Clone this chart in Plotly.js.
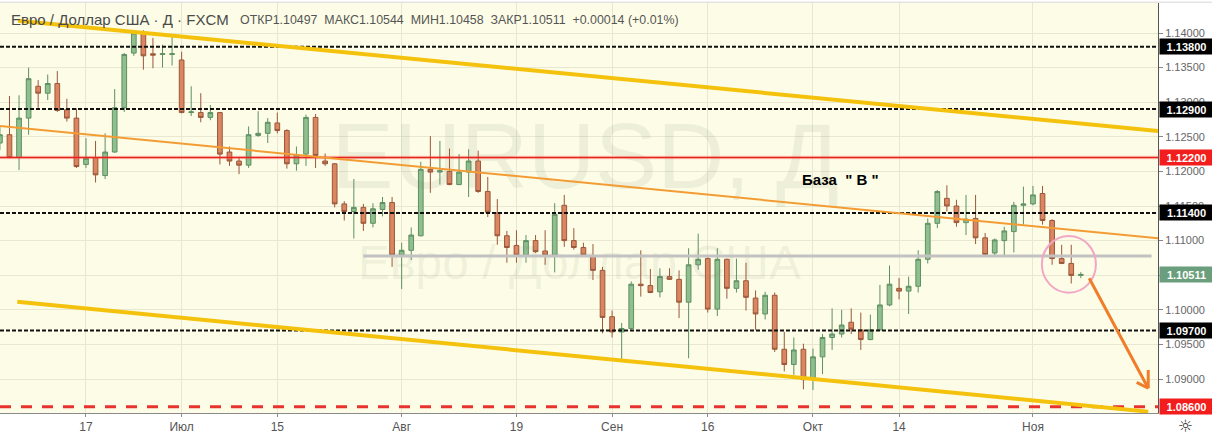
<!DOCTYPE html>
<html><head><meta charset="utf-8">
<script src="https://cdn.plot.ly/plotly-3.0.1.min.js"></script>
<style>html,body{margin:0;padding:0;background:#fff}#chart{width:1212px;height:438px}</style>
</head><body><div id="chart"></div>
<script>
// ---- data (EUR/USD daily, FXCM) ----
const dates = [
'2019-06-04','2019-06-05','2019-06-06','2019-06-07','2019-06-10','2019-06-11','2019-06-12','2019-06-13','2019-06-14',
'2019-06-17','2019-06-18','2019-06-19','2019-06-20','2019-06-21','2019-06-24','2019-06-25','2019-06-26','2019-06-27','2019-06-28',
'2019-07-01','2019-07-02','2019-07-03','2019-07-04','2019-07-05','2019-07-08','2019-07-09','2019-07-10','2019-07-11','2019-07-12',
'2019-07-15','2019-07-16','2019-07-17','2019-07-18','2019-07-19','2019-07-22','2019-07-23','2019-07-24','2019-07-25','2019-07-26',
'2019-07-29','2019-07-30','2019-07-31',
'2019-08-01','2019-08-02','2019-08-05','2019-08-06','2019-08-07','2019-08-08','2019-08-09','2019-08-12','2019-08-13','2019-08-14',
'2019-08-15','2019-08-16','2019-08-19','2019-08-20','2019-08-21','2019-08-22','2019-08-23','2019-08-26','2019-08-27','2019-08-28',
'2019-08-29','2019-08-30',
'2019-09-02','2019-09-03','2019-09-04','2019-09-05','2019-09-06','2019-09-09','2019-09-10','2019-09-11','2019-09-12','2019-09-13',
'2019-09-16','2019-09-17','2019-09-18','2019-09-19','2019-09-20','2019-09-23','2019-09-24','2019-09-25','2019-09-26','2019-09-27',
'2019-09-30',
'2019-10-01','2019-10-02','2019-10-03','2019-10-04','2019-10-07','2019-10-08','2019-10-09','2019-10-10','2019-10-11','2019-10-14',
'2019-10-15','2019-10-16','2019-10-17','2019-10-18','2019-10-21','2019-10-22','2019-10-23','2019-10-24','2019-10-25','2019-10-28',
'2019-10-29','2019-10-30','2019-10-31',
'2019-11-01','2019-11-04','2019-11-05','2019-11-06','2019-11-07','2019-11-08'
];
const openP = [
1.1241,1.1253,1.1220,1.1277,1.1323,1.1313,1.1327,1.1289,1.1277,
1.1210,1.1220,1.1194,1.1228,1.1292,1.1371,1.1400,1.1370,1.1369,1.1369,
1.1361,1.1285,1.1285,1.1278,1.1285,1.1228,1.1215,1.1209,1.1252,1.1255,
1.1270,1.1259,1.1211,1.1225,1.1278,1.1215,1.1211,1.1153,1.1142,1.1148,
1.1125,1.1145,1.1155,
1.1079,1.1086,1.1107,1.1203,1.1199,1.1200,1.1181,1.1199,1.1215,1.1171,
1.1140,1.1107,1.1093,1.1079,1.1100,1.1085,1.1079,1.1151,1.1100,1.1090,
1.1077,1.1057,
1.0990,1.0968,1.0973,1.1037,1.1035,1.1026,1.1048,1.1044,1.1011,1.1065,
1.1074,1.1001,1.1073,1.1031,1.1042,1.1017,1.0994,1.1021,1.0943,1.0921,
1.0943,
1.0900,1.0932,1.0960,1.0965,1.0982,1.0971,1.0957,1.0971,1.1007,1.1031,
1.1027,1.1034,1.1073,1.1125,1.1161,1.1150,1.1126,1.1132,1.1104,1.1082,
1.1100,1.1113,1.1151,
1.1153,1.1168,1.1129,1.1074,1.1067,1.10497
];
const highP = [
1.1265,1.1309,1.1310,1.1350,1.1332,1.1340,1.1345,1.1305,1.1291,
1.1248,1.1244,1.1255,1.1319,1.1371,1.1402,1.1404,1.1393,1.1383,1.1395,
1.1373,1.1323,1.1313,1.1296,1.1286,1.1236,1.1221,1.1265,1.1287,1.1277,
1.1285,1.1261,1.1236,1.1282,1.1283,1.1226,1.1212,1.1157,1.1189,1.1153,
1.1154,1.1163,1.1163,
1.1097,1.1119,1.1214,1.1251,1.1244,1.1233,1.1225,1.1232,1.1230,1.1192,
1.1160,1.1114,1.1115,1.1108,1.1108,1.1115,1.1154,1.1166,1.1118,1.1097,
1.1095,1.1062,
1.0999,1.0981,1.1041,1.1086,1.1059,1.1060,1.1060,1.1057,1.1089,1.1110,
1.1076,1.1089,1.1074,1.1074,1.1068,1.1028,1.1026,1.1025,1.0968,1.0960,
1.0951,
1.0944,1.0965,1.1002,1.1000,1.1002,1.0996,1.0993,1.1036,1.1064,1.1046,
1.1048,1.1086,1.1132,1.1173,1.1180,1.1159,1.1166,1.1166,1.1111,1.1103,
1.1120,1.1156,1.1178,
1.1179,1.1179,1.1131,1.1094,1.1094,1.10544
];
const lowP = [
1.1231,1.1219,1.1202,1.1253,1.1292,1.1303,1.1286,1.1272,1.1205,
1.1205,1.1184,1.1189,1.1227,1.1286,1.1367,1.1347,1.1349,1.1350,1.1353,
1.1284,1.1280,1.1271,1.1274,1.1210,1.1208,1.1196,1.1205,1.1250,1.1241,
1.1255,1.1204,1.1201,1.1208,1.1205,1.1208,1.1148,1.1129,1.1103,1.1114,
1.1119,1.1135,1.1062,
1.1030,1.1072,1.1106,1.1169,1.1181,1.1180,1.1180,1.1163,1.1169,1.1134,
1.1094,1.1068,1.1068,1.1068,1.1082,1.1065,1.1054,1.1091,1.1087,1.1078,
1.1043,1.0966,
1.0960,1.0929,1.0971,1.1019,1.1024,1.1018,1.1043,1.0988,1.0930,1.1058,
1.0996,1.0991,1.1016,1.1025,1.0999,1.0971,1.0986,1.0939,1.0911,1.0906,
1.0885,
1.0884,1.0907,1.0942,1.0960,1.0965,1.0942,1.0956,1.0970,1.1005,1.1015,
1.0994,1.1025,1.1067,1.1118,1.1142,1.1120,1.1108,1.1095,1.1079,1.1079,
1.1079,1.1083,1.1123,
1.1151,1.1123,1.1065,1.1066,1.1038,1.10458
];
const closeP = [
1.1253,1.1220,1.1277,1.1334,1.1313,1.1327,1.1288,1.1277,1.1207,
1.1219,1.1195,1.1228,1.1292,1.1369,1.1400,1.1367,1.1368,1.1370,1.1370,
1.1285,1.1286,1.1278,1.1285,1.1225,1.1215,1.1209,1.1253,1.1255,1.1271,
1.1259,1.1211,1.1224,1.1278,1.1223,1.1211,1.1153,1.1142,1.1148,1.1125,
1.1146,1.1155,1.1079,
1.1086,1.1108,1.1203,1.1199,1.1201,1.1181,1.1199,1.1215,1.1171,1.1141,
1.1107,1.1090,1.1079,1.1100,1.1084,1.1079,1.1138,1.1100,1.1090,1.1079,
1.1057,1.0989,
1.0968,1.0973,1.1037,1.1035,1.1025,1.1048,1.1044,1.1011,1.1065,1.1073,
1.1001,1.1073,1.1031,1.1042,1.1018,1.0994,1.1021,1.0943,1.0921,1.0942,
1.0899,
1.0932,1.0960,1.0965,1.0978,1.0972,1.0957,1.0971,1.1007,1.1037,1.1027,
1.1034,1.1073,1.1125,1.1171,1.1150,1.1126,1.1131,1.1104,1.1080,1.1101,
1.1114,1.1151,1.1153,
1.1166,1.1129,1.1074,1.1067,1.10497,1.10511
];
const tickDates  = ['2019-06-17','2019-07-01','2019-07-15','2019-08-01','2019-08-19','2019-09-02','2019-09-16','2019-10-01','2019-10-14','2019-11-01'];
const tickLabels = ['17','Июл','15','Авг','19','Сен','16','Окт','14','Ноя'];
const priceTicks = [1.09,1.095,1.10,1.105,1.11,1.115,1.12,1.125,1.13,1.135,1.14];
const dottedLevels = [1.138,1.129,1.114,1.097];
const redLevel = 1.122;
const redDashedLevel = 1.086;
const grayLevel = 1.10777;
const lastClose = 1.10511;
const headerMain = 'Евро / Доллар США · Д · FXCM';
const headerValues = 'ОТКР1.10497\u00a0\u00a0МАКС1.10544\u00a0\u00a0МИН1.10458\u00a0\u00a0ЗАКР1.10511\u00a0\u00a0+0.00014\u00a0(+0.01%)';

// ---- drawing ----
const idx = dates.map((d,i)=>i);
const FONT = 'Liberation Sans, Arial, sans-serif';
const traces = [
  {type:'scatter', mode:'text', x:[61.2, 60.6], y:[1.1209, 1.1062],
   text:['EURUSD, Д','Евро / Доллар США'], hoverinfo:'skip', showlegend:false,
   textfont:{family:FONT, size:[93,48], color:'rgba(120,125,100,0.11)'}},
  {type:'candlestick', x:idx, open:openP, high:highP, low:lowP, close:closeP,
   increasing:{line:{color:'#5e8f62', width:1}, fillcolor:'#8fbf8f'},
   decreasing:{line:{color:'#9a573a', width:1}, fillcolor:'#db8660'},
   whiskerwidth:0, showlegend:false, hoverinfo:'skip'}
];
const hl = (y, color, width, dash) => ({type:'line', xref:'paper', x0:0, x1:1, yref:'y', y0:y, y1:y,
  line:{color, width, dash}});
const seg = (x0,y0,x1,y1,color,width) => ({type:'line', xref:'x', yref:'y', x0, y0, x1, y1, line:{color, width}});
const shapes = [];
dottedLevels.forEach(v => shapes.push(hl(v, '#111', 2, '4px,2px')));
shapes.push(hl(redLevel, 'rgba(255,90,90,0.28)', 3.5, 'solid'));
shapes.push(hl(redLevel, '#e8221c', 1.5, 'solid'));
shapes.push(hl(redDashedLevel, '#e8322d', 3, '11px,10px'));
shapes.push(seg(37.99, grayLevel, 120.4, grayLevel, '#c2c2c2', 3));
shapes.push(seg(1.892, 1.14178, 121.07, 1.12584, '#f4c20d', 4));
shapes.push(seg(1.818, 1.10117, 120.05, 1.08528, '#f4c20d', 4));
shapes.push(seg(0.01, 1.12656, 121.07, 1.11033, '#f39c34', 2));
shapes.push({type:'circle', xref:'x', yref:'y', x0:108.93, x1:114.58, y0:1.10247, y1:1.11067,
  line:{color:'#f2a7c6', width:2}});
shapes.push(seg(113.88, 1.10455, 120.05, 1.08866, '#f07d2a', 3));
shapes.push(seg(118.84, 1.08952, 120.05, 1.08866, '#f07d2a', 3));
shapes.push(seg(120.05, 1.09130, 120.05, 1.08866, '#f07d2a', 3));
shapes.push({type:'line', xref:'paper', yref:'paper', x0:0, x1:1.05, y0:1.002, y1:1.002, line:{color:'#d6d6d6', width:1}});

const box = (y, bg) => ({xref:'paper', x:1, xanchor:'left', xshift:1, yref:'y', y, yanchor:'middle',
  text:y.toFixed(5), showarrow:false, bgcolor:bg, width:53, height:15, align:'center', borderpad:0,
  font:{family:FONT, size:11, color:'#fff', weight:'bold'}});
const annotations = [
  {xref:'paper', x:0, xanchor:'left', xshift:9, yref:'y', y:1.14188, yanchor:'middle', showarrow:false,
   text:headerMain, font:{family:FONT, size:15, color:'#4a4a4a'}},
  {xref:'paper', x:0, xanchor:'left', xshift:238, yref:'y', y:1.14188, yanchor:'middle', showarrow:false,
   text:headerValues, font:{family:FONT, size:12.4, color:'#555'}},
  {xref:'x', x:83.64, xanchor:'left', yref:'y', y:1.11876, yanchor:'middle', showarrow:false,
   text:'База\u00a0\u00a0"\u00a0В\u00a0"', font:{family:FONT, size:15, color:'#000', weight:'bold'}},
  box(1.138,'#000'), box(1.129,'#000'), box(1.114,'#000'), box(1.097,'#000'),
  box(1.122,'#f21d1d'), box(1.086,'#f21d1d'), box(lastClose,'#6a9e7c'),
  {xref:'paper', x:1, xanchor:'center', xshift:27, yref:'paper', y:0, yanchor:'middle', yshift:-13,
   showarrow:false, text:'☼', font:{family:'DejaVu Sans', size:17, color:'#333'}}
];
const layout = {
  width:1212, height:438, margin:{l:0, r:54, t:3, b:25},
  paper_bgcolor:'#ffffff', plot_bgcolor:'#fdfde7', showlegend:false,
  font:{family:FONT, color:'#555'},
  xaxis:{range:[0.01, 121.07], rangeslider:{visible:false}, fixedrange:true,
    tickvals:tickDates.map(d => dates.indexOf(d)), ticktext:tickLabels,
    showgrid:true, gridcolor:'#e8e8d2', gridwidth:1, zeroline:false,
    showline:true, linecolor:'#8a8a8a', linewidth:1, ticks:'outside', ticklen:3, tickcolor:'#8a8a8a',
    tickfont:{family:FONT, size:12, color:'#555'}},
  yaxis:{range:[1.085087, 1.144335], side:'right', fixedrange:true,
    tickvals:priceTicks, ticktext:priceTicks.map(v => v.toFixed(5)),
    showgrid:true, gridcolor:'#e8e8d2', gridwidth:1, zeroline:false,
    showline:true, linecolor:'#555', linewidth:1, ticks:'outside', ticklen:4, tickcolor:'#888',
    tickfont:{family:FONT, size:11, color:'#666'}},
  boxgap:0.3,
  shapes, annotations
};
Plotly.newPlot('chart', traces, layout, {displayModeBar:false, staticPlot:true});
</script></body></html>
